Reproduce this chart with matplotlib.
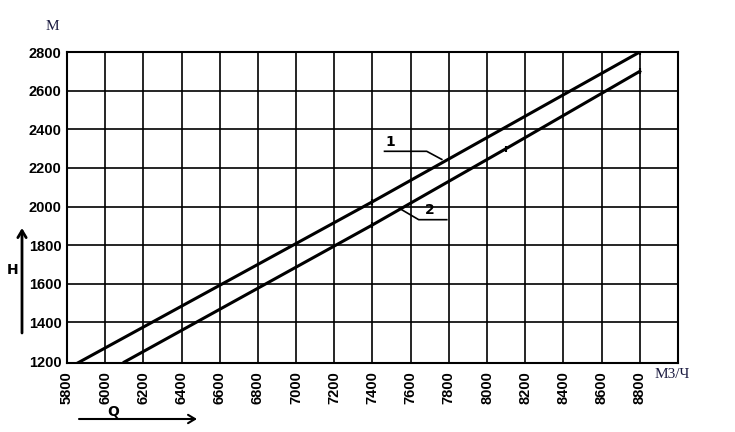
import numpy as np
import matplotlib
matplotlib.use("Agg")
import matplotlib.pyplot as plt

# data
q1 = [5800, 7400, 8800]
h1 = [1160, 2025, 2800]
q2 = [6100, 7400, 8100, 8800]
h2 = [1195, 1905, 2300, 2700]
xticks = list(range(5800, 9000, 200))
yticks = list(range(1200, 2900, 200))

fig = plt.figure(figsize=(7.35, 4.32), dpi=100)
ax = fig.add_axes([0.0912, 0.1597, 0.8312, 0.7199])

# grid, black like the drawing (frame takes the edge lines)
for x in xticks[1:]:
    ax.axvline(x, color='black', lw=1.2, zorder=1)
for y in yticks[1:-1]:
    ax.axhline(y, color='black', lw=1.2, zorder=1)

ax.plot(q1, h1, color='black', lw=2.2, zorder=3)
ax.plot(q2, h2, color='black', lw=2.2, zorder=3)
# small marks on the lines
ax.plot(q1[1:], h1[1:], ls='none', marker='|', ms=4, mew=1.5, color='black', zorder=4)
ax.plot(q2[1:], h2[1:], ls='none', marker='|', ms=4, mew=1.5, color='black', zorder=4)

ax.set_xlim(5800, 9000)
ax.set_ylim(1190, 2800)
ax.set_xticks(xticks)
ax.set_yticks(yticks)
lab_font = dict(family=['Liberation Sans Narrow', 'Liberation Sans', 'DejaVu Sans'], fontweight='bold', fontsize=10.5)
ax.set_xticklabels([str(v) for v in xticks], rotation=90, **lab_font)
ax.set_yticklabels([str(v) for v in yticks], **lab_font)
ax.tick_params(length=0, pad=4)
ax.tick_params(axis='x', pad=6)
for s in ax.spines.values():
    s.set_linewidth(1.5)

# leader lines with numbers
ax.plot([7463, 7684, 7763], [2286, 2286, 2244], color='black', lw=1.2, zorder=3)
ax.text(7470, 2300, '1', fontsize=10, fontweight='bold', ha='left', va='bottom')
ax.plot([7542, 7642, 7789], [1990, 1932, 1932], color='black', lw=1.2, zorder=3)
ax.text(7700, 1945, '2', fontsize=10, fontweight='bold', ha='center', va='bottom')

# units and axis names outside the axes
serif = ['Liberation Serif', 'DejaVu Serif']
fig.text(52 / 735, 1 - 27 / 432, 'М', family=serif, fontsize=11, color='#1a1a40', ha='center', va='center')
fig.text(655 / 735, 1 - 375 / 432, 'М3/Ч', family=serif, fontsize=11, color='#1a1a40', ha='left', va='center')
fig.text(13 / 735, 1 - 270 / 432, 'Н', fontsize=10, fontweight='bold', ha='center', va='center')
fig.text(113 / 735, 1 - 412 / 432, 'Q', fontsize=10, fontweight='bold', ha='center', va='center')
fig.add_artist(matplotlib.patches.FancyArrowPatch((22 / 735, 1 - 333 / 432), (22 / 735, 1 - 228 / 432),
                                                  transform=fig.transFigure, arrowstyle='->,head_width=3,head_length=5',
                                                  lw=2, color='black', shrinkA=0, shrinkB=0))
fig.add_artist(matplotlib.patches.FancyArrowPatch((79 / 735, 1 - 419 / 432), (197 / 735, 1 - 419 / 432),
                                                  transform=fig.transFigure, arrowstyle='->,head_width=3,head_length=5',
                                                  lw=1.5, color='black', shrinkA=0, shrinkB=0))

fig.savefig('out.png', dpi=100)
